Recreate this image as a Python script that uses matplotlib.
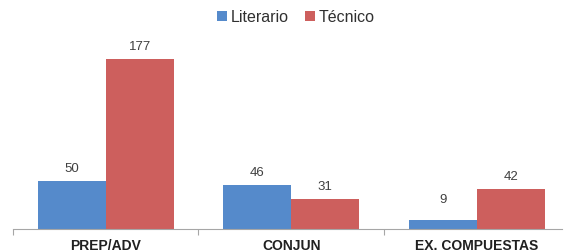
import matplotlib
matplotlib.use("Agg")
import matplotlib.pyplot as plt
import numpy as np

categories = ["PREP/ADV", "CONJUN", "EX. COMPUESTAS"]
series_names = ["Literario", "Técnico"]
literario = [50, 46, 9]
tecnico = [177, 31, 42]

colors = ["#558ACB", "#CD5F5D"]

plt.rcParams['font.family'] = ['Liberation Sans', 'DejaVu Sans']

fig = plt.figure(figsize=(5.66, 2.53), dpi=100)
W, H = 566, 253
left, right, base, top = 13, 562, 230, 30
ax = fig.add_axes([left / W, (H - base) / H, (right - left) / W, (base - top) / H])

x = np.arange(len(categories))
bw = 0.367
b1 = ax.bar(x - bw / 2, literario, bw, color=colors[0], label=series_names[0])
b2 = ax.bar(x + bw / 2, tecnico, bw, color=colors[1], label=series_names[1])

for bars, vals in ((b1, literario), (b2, tecnico)):
    for rect, v in zip(bars, vals):
        off = 5 if v >= 20 else 11
        ax.annotate(str(v), (rect.get_x() + rect.get_width() / 2, v),
                    xytext=(0, off), textcoords="offset points",
                    ha="center", va="bottom", fontsize=9.5, color="#404040")

ax.set_xlim(-0.5, 2.46)
ax.set_ylim(0, 200 / 0.9605)

for s in ["top", "right", "left"]:
    ax.spines[s].set_visible(False)
ax.spines["bottom"].set_color("#A6A6A6")
ax.spines["bottom"].set_linewidth(0.8)
ax.set_yticks([])
ax.set_xticks(x)
ax.set_xticklabels(categories, fontsize=10, fontweight="bold", color="#202020")
ax.tick_params(axis="x", which="major", length=0, pad=6.5)
ax.set_xticks([-0.5, 0.5, 1.5], minor=True)
ax.tick_params(axis="x", which="minor", length=4, color="#A6A6A6", width=0.8)

fig.legend(handles=[b1, b2], labels=series_names, loc="center",
           bbox_to_anchor=(296 / W, 1 - 18 / H), ncol=2, frameon=False,
           fontsize=11.5, handlelength=0.6, handleheight=0.6,
           handletextpad=0.25, columnspacing=1.0, labelcolor="#303030")

fig.savefig("out.png", dpi=100)
